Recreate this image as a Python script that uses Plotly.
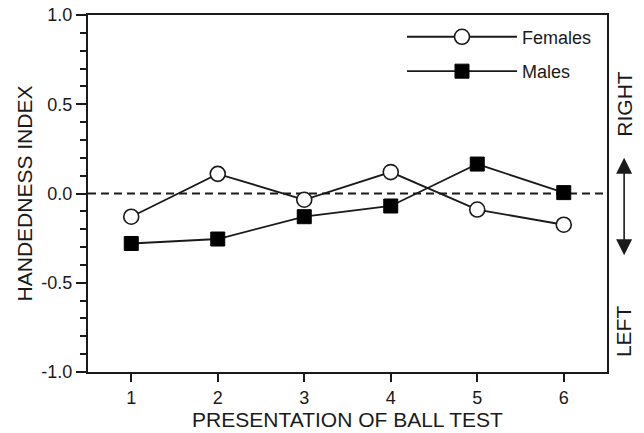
import plotly.graph_objects as go

presentation = [1, 2, 3, 4, 5, 6]
females = [-0.13, 0.11, -0.035, 0.12, -0.09, -0.175]
males = [-0.28, -0.255, -0.13, -0.07, 0.165, 0.005]
y_ticks = [-1.0, -0.5, 0.0, 0.5, 1.0]
y_ticklabels = ["-1.0", "-0.5", "0.0", "0.5", "1.0"]

FONT = "Liberation Sans, Arial, Helvetica, sans-serif"
INK = "#1a1a1a"

fig = go.Figure()
fig.add_trace(go.Scatter(
    x=presentation, y=females, name="Females", mode="lines+markers", legendgroup="f",
    line=dict(color=INK, width=1.8),
    marker=dict(symbol="circle", size=15, color="white", line=dict(color=INK, width=1.6)),
))
fig.add_trace(go.Scatter(
    x=presentation, y=males, name="Males", mode="lines+markers", legendgroup="m",
    line=dict(color=INK, width=1.8),
    marker=dict(symbol="square", size=14, color="black", line=dict(color="black", width=1)),
))

# dashed zero line
fig.add_shape(type="line", xref="paper", x0=0, x1=1, yref="y", y0=0, y1=0,
              line=dict(color=INK, width=1.8, dash="8px,5px"), layer="below")

# side labels and double arrow
fig.add_annotation(xref="paper", yref="paper", x=1.033, y=0.752, text="RIGHT",
                   xanchor="center", yanchor="middle",
                   textangle=-90, showarrow=False, font=dict(family=FONT, size=21, color=INK))
fig.add_annotation(xref="paper", yref="paper", x=1.033, y=0.115, text="LEFT",
                   xanchor="center", yanchor="middle",
                   textangle=-90, showarrow=False, font=dict(family=FONT, size=21, color=INK))
fig.add_annotation(xref="paper", yref="paper", axref="pixel", ayref="pixel",
                   x=1.033, y=0.6, ax=0, ay=99, text="",
                   showarrow=True, arrowhead=2, startarrowhead=2, arrowside="end+start",
                   arrowsize=2, startarrowsize=2, arrowwidth=1.6, arrowcolor=INK,
                   standoff=0, startstandoff=0)

fig.update_layout(
    width=644, height=433,
    margin=dict(l=88, r=37, t=15, b=61, autoexpand=False),
    paper_bgcolor="white", plot_bgcolor="white",
    font=dict(family=FONT, color=INK, size=18),
    showlegend=True,
    legend=dict(x=0.605, y=0.99, xanchor="left", yanchor="top",
                bgcolor="rgba(0,0,0,0)", itemwidth=110,
                font=dict(family=FONT, size=18, color=INK), tracegroupgap=8),
    xaxis=dict(
        range=[0.5, 6.5], tickvals=presentation, ticktext=[str(v) for v in presentation],
        showgrid=False, zeroline=False, showline=True, linecolor=INK, linewidth=2,
        mirror=True, ticks="outside", ticklen=8, tickwidth=1.5, tickcolor=INK,
        tickfont=dict(size=18), automargin=False,
        title=dict(text="PRESENTATION OF BALL TEST", font=dict(size=21), standoff=4),
    ),
    yaxis=dict(
        range=[-1.0, 1.0], tickvals=y_ticks, ticktext=y_ticklabels,
        showgrid=False, zeroline=False, showline=True, linecolor=INK, linewidth=2,
        mirror=True, ticks="outside", ticklen=10, tickwidth=1.5, tickcolor=INK,
        minor=dict(dtick=0.1, ticks="outside", ticklen=6, tickwidth=1.5, tickcolor=INK),
        tickfont=dict(size=18), automargin=False,
        title=dict(text="HANDEDNESS INDEX", font=dict(size=21), standoff=3),
    ),
)

fig.write_html("out.html", config={"displayModeBar": False},
               post_script="document.body.style.margin='0';")
